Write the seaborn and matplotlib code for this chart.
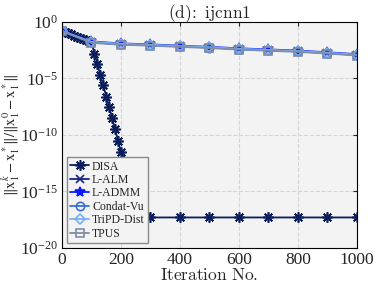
import numpy as np
import pandas as pd
import seaborn as sns
import matplotlib.pyplot as plt
from matplotlib.ticker import LogFormatterMathtext

# iterations
iters_disa = [0, 10, 20, 30, 40, 50, 60, 70, 80, 90, 100, 110, 120, 130, 140, 150,
              160, 170, 180, 190, 200, 300, 400, 500, 600, 700, 800, 900, 1000]
iters_other = [0, 100, 200, 300, 400, 500, 600, 700, 800, 900, 1000]

# log10 of relative error
disa_log = [-0.8, -0.9, -1.0, -1.1, -1.2, -1.3, -1.4, -1.5, -1.6, -1.7, -1.8, -2.8,
            -3.7, -4.7, -5.6, -6.6, -7.5, -8.5, -9.5, -10.5, -11.5, -17.3, -17.3,
            -17.3, -17.3, -17.3, -17.3, -17.3, -17.3]
lalm_log = [-0.8, -1.80, -1.97, -2.05, -2.16, -2.26, -2.40, -2.50, -2.60, -2.75, -2.92]
ladmm_log = [-0.78, -1.72, -1.90, -1.98, -2.10, -2.20, -2.33, -2.43, -2.53, -2.68, -2.85]
condat_log = [-0.8, -1.80, -1.97, -2.05, -2.16, -2.26, -2.40, -2.50, -2.60, -2.75, -2.92]
tripd_log = [-0.79, -1.76, -1.93, -2.02, -2.13, -2.23, -2.37, -2.47, -2.57, -2.72, -2.89]
tpus_log = [-0.82, -1.85, -2.02, -2.10, -2.21, -2.31, -2.45, -2.55, -2.65, -2.80, -2.97]

sns.set_style("whitegrid", {"axes.facecolor": "#f3f3f3", "grid.color": "#d4d4d4",
                            "grid.linestyle": "--", "axes.edgecolor": "black"})
plt.rcParams['font.family'] = ['Liberation Serif', 'DejaVu Serif']
plt.rcParams['mathtext.fontset'] = 'stix'

fig = plt.figure(figsize=(3.78, 2.89), dpi=100)
ax = fig.add_axes([0.164, 0.142, 0.78, 0.782])

series = [
    ("DISA", iters_disa, disa_log, "#0b1d5a", (8, 2, 0), 7.5, True),
    ("L-ALM", iters_other, lalm_log, "#1a237e", "x", 6, True),
    ("L-ADMM", iters_other, ladmm_log, "#0a1aff", "*", 7.5, True),
    ("Condat-Vu", iters_other, condat_log, "#3c6fd6", "o", 6, False),
    ("TriPD-Dist", iters_other, tripd_log, "#78b0f5", "D", 5, False),
    ("TPUS", iters_other, tpus_log, "#7f8da6", "s", 5.5, False),
]

for name, xs, ys, col, mk, ms, filled in series:
    df = pd.DataFrame({"it": xs, "err": 10.0 ** np.array(ys)})
    sns.lineplot(data=df, x="it", y="err", ax=ax, color=col, marker=mk, markersize=ms,
                 markeredgecolor=col, markerfacecolor=col if filled else "none",
                 markeredgewidth=1.2, linewidth=1.3, label=name)

ax.set_yscale("log")
ax.set_xlim(0, 1000)
ax.set_ylim(1e-20, 1e0)
ax.set_yticks([1e0, 1e-5, 1e-10, 1e-15, 1e-20])
ax.yaxis.set_major_formatter(LogFormatterMathtext())
ax.yaxis.set_minor_locator(plt.NullLocator())
ax.set_xticks([0, 200, 400, 600, 800, 1000])
ax.tick_params(direction="in", length=3, top=True, right=True, labelsize=12.5,
               width=0.8, pad=3)
for s in ax.spines.values():
    s.set_linewidth(0.8)

ax.set_xlabel(r"$\mathrm{Iteration\ No.}$", fontsize=12.5, math_fontfamily="cm",
              labelpad=0)
ax.set_ylabel(r"$\|\mathrm{x}_1^k-\mathrm{x}_1^*\|/\|\mathrm{x}_1^0-\mathrm{x}_1^*\|$",
              fontsize=10.5)
ax.yaxis.set_label_coords(-0.135, 0.5)
ax.set_title(r"$\mathrm{(d)\!:\ ijcnn1}$", fontsize=12.5, math_fontfamily="cm", pad=3)

leg = ax.legend(loc="lower left", fontsize=8.5, frameon=True, fancybox=False,
                edgecolor="#8a8a8a", framealpha=1, facecolor="#f3f3f3",
                handlelength=1.6, handletextpad=0.25, borderpad=0.3, labelspacing=0.12,
                borderaxespad=0.4)
leg.get_frame().set_linewidth(1.0)

fig.savefig("out.png", dpi=100)
